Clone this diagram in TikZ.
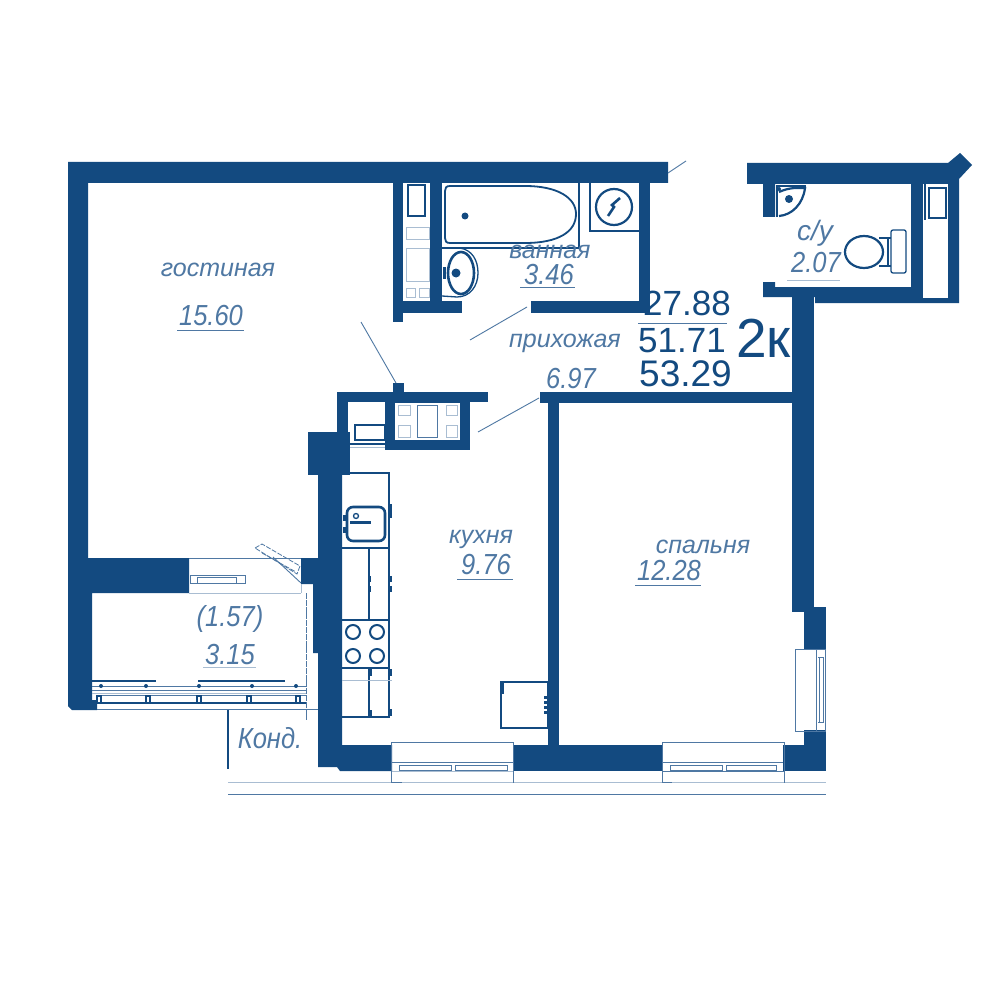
\documentclass[tikz,border=0pt]{standalone}
\usepackage{fontspec}
\setmainfont{Liberation Sans}
\newfontfamily\numfam[FakeStretch=0.88]{Liberation Sans}
\definecolor{wallblue}{HTML}{134A80}
\definecolor{thinblue}{HTML}{4F78A3}
\definecolor{paleblue}{HTML}{A9BDD2}
\tikzset{
  wall/.style={fill=wallblue,draw=none},
  fix/.style={draw=wallblue,line width=1.3pt},
  fixthick/.style={draw=wallblue,line width=2.6pt},
  fine/.style={draw=thinblue,line width=0.9pt},
  pale/.style={draw=paleblue,line width=0.9pt},
  dashline/.style={draw=thinblue,line width=0.8pt,dash pattern=on 5pt off 1.5pt},
  roomtxt/.style={inner sep=0pt,text=thinblue,font=\fontsize{25}{25}\selectfont\itshape},
  numtxt/.style={inner sep=0pt,text=thinblue,font=\numfam\fontsize{29}{29}\selectfont\itshape},
  areatxt/.style={inner sep=0pt,text=wallblue,font=\fontsize{35}{35}\selectfont,anchor=base west},
}
\begin{document}
\begin{tikzpicture}[x=1pt,y=-1pt]
\useasboundingbox (0,0) rectangle (1000,1000);
\fill[white] (0,0) rectangle (1000,1000);

% ---------- main walls
\fill[wall] (68,162) -- (668,162) -- (668,183) -- (88,183) -- (88,558) -- (189,558) -- (189,593)
  -- (92,593) -- (92,700) -- (97,700) -- (97,710) -- (72,710) -- (68,706) -- cycle;
% bathroom
\fill[wall] (393,183) rectangle (403,322);
\fill[wall] (393,301) rectangle (462,313);
\fill[wall] (430,183) rectangle (442,301);
\fill[wall] (639,183) rectangle (650,313);
\fill[wall] (531,301) rectangle (650,313);
% wc block
\fill[wall] (747,163) -- (948,163) -- (960,153) -- (972,165) -- (959,179) -- (959,303) -- (815,303)
  -- (815,297) -- (763,297) -- (763,282) -- (775,282) -- (775,287) -- (911,287) -- (911,184)
  -- (775,184) -- (775,217) -- (763,217) -- (763,184) -- (747,184) -- cycle;
\fill[white] (923,184) rectangle (948,298);
\fill[wall] (792,297) rectangle (814,612);
\fill[wall] (804,607) rectangle (826,649);
\fill[wall] (540,392) rectangle (792,403);
\fill[wall] (548,403) rectangle (559,745);
% kitchen upper block
\fill[wall] (337,392) rectangle (488,402);
\fill[wall] (393,383) rectangle (404,392);
\fill[wall] (337,402) rectangle (348,432);
\fill[wall] (385,402) rectangle (470,450);
\fill[white] (395,403) rectangle (460,440);
\fill[wall] (308,432) rectangle (350,475);
\fill[wall] (318,475) -- (342,475) -- (342,745) -- (392,745) -- (392,771) -- (340,771) -- (337,767)
  -- (318,767) -- (318,653) -- (313,653) -- (313,584) -- (301,584) -- (301,558) -- (318,558) -- cycle;
% bottom wall
\fill[wall] (513,745) rectangle (663,771);
\fill[wall] (783,745) rectangle (826,771);
\fill[wall] (804,730) rectangle (826,745);

% ---------- bathroom fixtures
\draw[fix] (408,185) rectangle (425,216);
\draw[pale] (406,227) rectangle (429,239);
\draw[pale] (406,248) rectangle (429,281);
\draw[pale] (406,288) rectangle (415,297);
\draw[pale] (419,288) rectangle (429,297);
\draw[fixthick,line width=1.8pt] (525,186) -- (450,186) .. controls (446,186) and (445,188) .. (445,191)
  -- (445,238) .. controls (445,241) and (446,243) .. (450,243) -- (525,243)
  .. controls (558,243) and (576,232) .. (576,214) .. controls (576,198) and (558,186) .. (525,186) -- cycle;
\draw[fix] (442,248) -- (579,248) -- (579,183);
\fill[wallblue] (465,216) circle (3.5);
\draw[fixthick] (461,273) ellipse (13 and 21);
\draw[fix] (460,248) .. controls (472,250) and (478,260) .. (478,273)
  .. controls (478,286) and (470,297) .. (457,297) -- (442,296);
\fill[wallblue] (456,273) circle (4.5);
\fill[wallblue] (443,267) rectangle (446,279);
\draw[fix] (590,183) -- (590,231) -- (639,231);
\draw[fixthick,line width=2.2pt] (614,207) circle (18);
\draw[fixthick] (608,216) -- (614,207) -- (612,205) -- (620,198);
% leader lines
\draw[fine] (527,307) -- (470,340);
\draw[fine] (668,173) -- (686,161);
\draw[fine] (396,383) -- (361,322);
\draw[fine] (539,398) -- (478,432);

% ---------- wc fixtures
\draw[fix] (777,217) -- (777,186) -- (806,186);
\draw[fixthick,line width=2.2pt] (779,192) .. controls (790,187) and (798,188) .. (805,188)
  .. controls (803,204) and (792,215) .. (779,216);
\fill[wallblue] (789,199) circle (4);
\fill[wallblue] (779,189) circle (2);
\draw[fix] (925,184) -- (925,220);
\draw[fix] (929,188) rectangle (946,218);
\draw[fixthick,line width=2.2pt] (864,252) ellipse (19 and 16);
\draw[fix,rounded corners=2pt] (891,230) rectangle (906,273);
\draw[fix] (888,238) -- (891,238);
\draw[fix] (888,238) -- (888,266) -- (891,266);
\draw[fix] (879,238) -- (888,238);
\draw[fix] (879,266) -- (888,266);

% ---------- kitchen upper fixtures
\draw[fix] (355,425) rectangle (385,440);
\draw[pale] (350,447) -- (385,447);
\draw[fix] (350,444) -- (385,444);
\draw[pale] (398,405) rectangle (410,415);
\draw[pale] (398,425) rectangle (410,437);
\draw[pale] (446,405) rectangle (457,415);
\draw[pale] (446,425) rectangle (457,437);
\draw[fine] (417,405) rectangle (437,437);

% ---------- kitchen counter
\draw[fix] (342,473) -- (389,473) -- (389,717) -- (342,717);
\draw[fixthick,rounded corners=6pt] (347,507) rectangle (385,541);
\fill[wallblue] (350,521) rectangle (371,524);
\draw[fix] (356,516) circle (2.5);
\fill[wallblue] (343,515) rectangle (347,521);
\fill[wallblue] (343,527) rectangle (347,533);
\fill[wallblue] (388,504) rectangle (392,518);
\draw[fix] (342,548) -- (389,548);
\draw[fix] (369,548) -- (369,620);
\draw[fixthick,line width=1.6pt] (342,620) -- (389,620);
\draw[fixthick,line width=1.6pt] (342,668) -- (389,668);
\foreach \bx/\by in {353/632,377/632,353/656,377/656}{
  \draw[fixthick,line width=2pt] (\bx,\by) circle (7);
}
\draw[fix] (369,668) -- (369,717);
\draw[pale] (342,680) -- (392,680);
\fill[wallblue] (368,669) rectangle (372,676);
\fill[wallblue] (368,710) rectangle (372,716);
\fill[wallblue] (389,669) rectangle (392,676);
\fill[wallblue] (389,709) rectangle (392,716);
\fill[wallblue] (388,576) rectangle (392,582);
\fill[wallblue] (388,586) rectangle (392,592);
\fill[wallblue] (368,576) rectangle (371,582);
\fill[wallblue] (368,586) rectangle (371,592);

% ---------- fridge
\draw[fixthick,line width=1.8pt] (501,682) rectangle (548,728);
\fill[wallblue] (500,682) rectangle (504,694);
\fill[white] (544,684) rectangle (547,726);
\foreach \fy in {696,701,706,711}{ \fill[wallblue] (544,\fy) rectangle (547,\fy+2.5); }

% ---------- balcony door
\draw[fine] (189,558) -- (301,558);
\draw[pale] (189,593) -- (301,593);
\draw[fine] (190,575) rectangle (245,583);
\draw[fine] (197,577) rectangle (236,583);
\draw[dashline] (255,548) -- (262,544) -- (300,566) -- (297,574) -- cycle;
\draw[dashline] (262,553) -- (296,572);
\draw[fine] (273,557) -- (301,583);
\draw[pale] (301,584) -- (301,593);

% ---------- balcony railing
\draw[dashline,dash pattern=on 6pt off 0.8pt] (306,593) -- (306,720);
\draw[fix] (92,681) -- (156,681);
\draw[fix] (198,681) -- (285,681);
\draw[fine] (92,686) -- (306,686);
\draw[fine] (92,690) -- (306,690);
\draw[pale] (92,693) -- (306,693);
\draw[fine] (97,695) -- (306,695);
\draw[fix] (97,703) -- (306,703);
\draw[fine] (97,709) -- (318,709);
\foreach \px in {101,146,199,252,296}{
  \fill[wallblue] (\px,686) circle (2);
}
\foreach \px in {99,148,199,249,298}{
  \draw[fix] (\px-2,696) rectangle (\px+2,703);
}

% ---------- kond
\draw[fix] (228,710) -- (228,769);
\draw[pale] (228,782) -- (318,782);
\draw[fine] (228,794) -- (826,794);
\draw[pale] (341,782) -- (826,782);
\draw[pale] (318,782) -- (341,782);

% ---------- kitchen window
\draw[fine] (393,771) -- (391,771) -- (391,742) -- (513,742) -- (513,771);
\draw[fine] (391,762) -- (513,762);
\draw[pale] (391,771) -- (513,771);
\draw[fine] (399,765) rectangle (451,770);
\draw[fine] (455,765) rectangle (507,770);
\draw[fine] (391,771) -- (391,782) -- (402,782);
\draw[fine] (513,771) -- (513,783);
% ---------- bedroom bottom window
\draw[fine] (662,742) -- (784,742) -- (784,771);
\draw[fine] (662,742) -- (662,771);
\draw[fine] (663,762) -- (783,762);
\draw[fine] (670,765) rectangle (722,770);
\draw[fine] (726,765) rectangle (776,770);
\draw[fine] (662,771) -- (784,771);
\draw[fine] (662,771) -- (662,782) -- (672,782);
\draw[fine] (784,771) -- (784,783);
% ---------- bedroom right window
\draw[fine] (816,649) -- (795,649) -- (795,731) -- (816,731);
\draw[fine] (816,649) rectangle (825,731);
\draw[fine] (819,657) -- (819,722);
\draw[fine] (823,657) -- (823,722);
\draw[fine] (818,657) -- (824,657);
\draw[fine] (818,722) -- (824,722);

% ---------- rooms
\node[roomtxt] (gost) at (218,270) {гостиная};
\node[numtxt] (a1) at (211,316) {15.60};
\draw[fine] (177,330) -- (244,330);
\node[roomtxt] (vann) at (550,252) {ванная};
\node[numtxt] (a2) at (549,275) {3.46};
\draw[fine] (520,287) -- (575,287);
\node[roomtxt] (prih) at (565,343) {прихожая};
\node[numtxt] (a3) at (571,379) {6.97};
\node[roomtxt] (kuh) at (481,539) {кухня};
\node[numtxt] (a4) at (486,565) {9.76};
\draw[fine] (457,579) -- (513,579);
\node[roomtxt] (spal) at (703,547) {спальня};
\node[numtxt] (a5) at (669,571) {12.28};
\draw[fine] (635,585) -- (701,585);
\node[numtxt] (b1) at (230,619) {(1.57)};
\node[numtxt] (b2) at (230,655) {3.15};
\draw[pale] (203,667) -- (256,667);
\node[numtxt] (kond) at (270,738) {Конд.};
\node[roomtxt,font=\fontsize{28}{28}\selectfont\itshape] (su) at (815,233) {с/у};
\node[numtxt] (a6) at (816,263) {2.07};
\draw[pale] (787,280) -- (840,280);

% ---------- totals
\node[areatxt] (t1) at (643,315) {27.88};
\draw[fine] (638,323) -- (727,323);
\node[areatxt] (t2) at (638,352) {51.71};
\node[areatxt,font=\fontsize{37}{37}\selectfont] (t3) at (639,386) {53.29};
\node[areatxt,font=\fontsize{55}{55}\selectfont] (t4) at (736,357) {2к};
\end{tikzpicture}
\end{document}
